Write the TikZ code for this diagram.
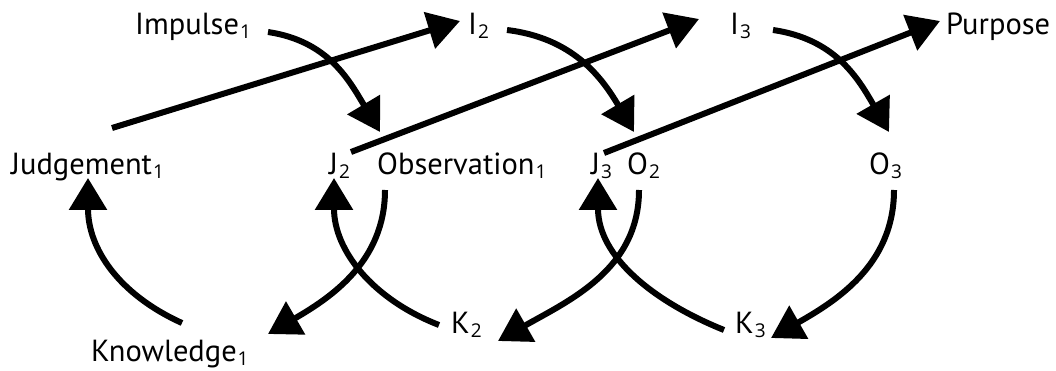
\documentclass[tikz,border=0pt]{standalone}
\usepackage{fontspec}
\setmainfont{PT Sans}
\newfontfamily\subfont{Open Sans}
\usetikzlibrary{arrows.meta}
\newcommand\subidx[1]{\kern1pt\raisebox{-4pt}{\subfont\fontsize{19}{19}\selectfont #1}}
\begin{document}
\begin{tikzpicture}[x=1pt,y=-1pt,
  lbl/.style={anchor=base west, inner sep=0pt, font=\fontsize{30.5}{30.5}\selectfont},
  conn/.style={line width=6pt, draw=black, -{Triangle[length=32pt,width=37pt]}}]
\useasboundingbox (0,0) rectangle (1056,371);
% labels
\node[lbl] (imp) at (135,35) {Impulse\subidx{1}};
\node[lbl] (i2)  at (468,35) {I\subidx{2}};
\node[lbl] (i3)  at (730,35) {I\subidx{3}};
\node[lbl] (pur) at (946,35) {Purpose};
\node[lbl] (jud) at (11,175) {Judgement\subidx{1}};
\node[lbl] (j2)  at (329,175) {J\subidx{2}};
\node[lbl] (obs) at (377,175) {Observation\subidx{1}};
\node[lbl] (j3)  at (591,175) {J\subidx{3}};
\node[lbl] (o2)  at (627,175) {O\subidx{2}};
\node[lbl] (o3)  at (869,175) {O\subidx{3}};
\node[lbl] (kn)  at (91,361) {Knowledge\subidx{1}};
\node[lbl] (k2)  at (451,333) {K\subidx{2}};
\node[lbl] (k3)  at (735,333) {K\subidx{3}};
% connector ends
\coordinate (jud-out) at (112,128);
\coordinate (i2-in)   at (460,21);
\coordinate (j2-out)  at (351,152);
\coordinate (i3-in)   at (699,19);
\coordinate (j3-out)  at (604,153);
\coordinate (pur-in)  at (940,21);
\coordinate (imp-out) at (268,32);
\coordinate (obs-in)  at (380,132);
\coordinate (i2-out)  at (507,30);
\coordinate (o2-in)   at (634,132);
\coordinate (i3-out)  at (773,30);
\coordinate (o3-in)   at (889,132);
\coordinate (kn-out)  at (182,323);
\coordinate (jud-in)  at (88,178);
\coordinate (obs-out) at (385,190);
\coordinate (kn-in)   at (268,334);
\coordinate (k2-out)  at (439,325);
\coordinate (j2-in)   at (334,178);
\coordinate (o2-out)  at (639,190);
\coordinate (k2-in)   at (498,341);
\coordinate (k3-out)  at (724,330);
\coordinate (j3-in)   at (598,178);
\coordinate (o3-out)  at (894,190);
\coordinate (k3-in)   at (771,338);
% straight connectors
\draw[conn] (jud-out) -- (i2-in);
\draw[conn] (j2-out) -- (i3-in);
\draw[conn] (j3-out) -- (pur-in);
% curved connectors
\draw[conn] (imp-out) .. controls +(60,9) and +(-31,-52) .. (obs-in);
\draw[conn] (i2-out) .. controls +(65,8) and +(-33,-56) .. (o2-in);
\draw[conn] (i3-out) .. controls +(62,9) and +(-31,-54) .. (o3-in);
\draw[conn] (kn-out) .. controls +(-64,-29) and +(0,70) .. (jud-in);
\draw[conn] (obs-out) .. controls +(0,72) and +(62,-36) .. (kn-in);
\draw[conn] (k2-out) .. controls +(-67,-26) and +(0,72) .. (j2-in);
\draw[conn] (o2-out) .. controls +(0,80) and +(70,-40) .. (k2-in);
\draw[conn] (k3-out) .. controls +(-72,-29) and +(0,78) .. (j3-in);
\draw[conn] (o3-out) .. controls +(0,75) and +(65,-37) .. (k3-in);
\end{tikzpicture}
\end{document}
